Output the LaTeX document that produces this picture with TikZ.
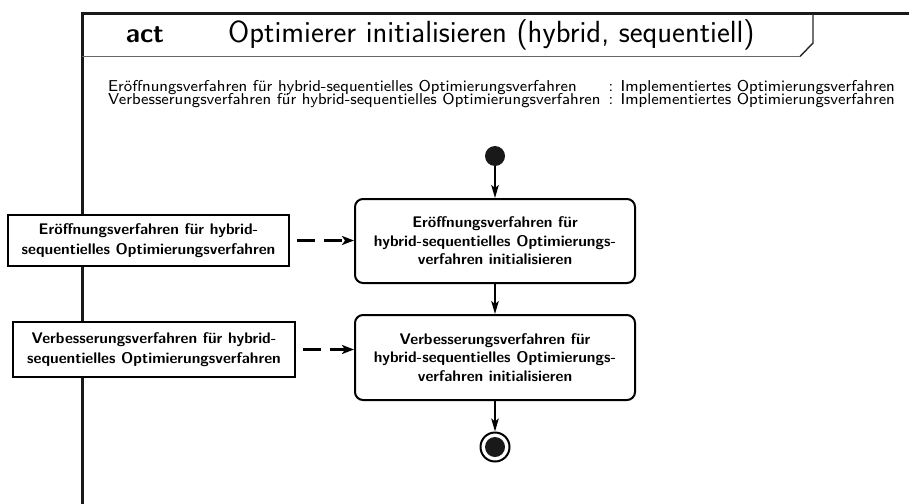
\documentclass[tikz,border=0pt]{standalone}
\usepackage{graphicx}
\usetikzlibrary{arrows.meta}
% two declaration lines in the small optical size of Latin Modern Sans, enlarged
\newcommand{\declline}[2]{\hbox{\hbox to 254pt{#1\hfil}#2}}
\newcommand{\declblock}[1]{\scalebox{1.97}{\sffamily\fontsize{8}{9}\selectfont
  \vbox{\baselineskip=6.35pt\lineskiplimit=-100pt #1}}}
\begin{document}
\begin{tikzpicture}[x=1pt,y=-1pt,
  framel/.style={line width=3pt,black!90},
  action/.style={draw,line width=2pt,rounded corners=8pt,fill=white,
    minimum width=280pt,align=center,font=\sffamily\bfseries\fontsize{15.4}{18.5}\selectfont},
  objbox/.style={draw,line width=2pt,fill=white,align=center,
    font=\sffamily\bfseries\fontsize{15.4}{19.5}\selectfont},
  flow/.style={line width=1.7pt,-{Stealth[length=13pt,width=7.5pt,inset=3pt]}},
  objflow/.style={line width=2.4pt,dash pattern=on 18pt off 9pt,shorten <=7pt,
    -{Stealth[length=12pt,width=9pt,inset=3pt]}}]
\useasboundingbox (0,0) rectangle (909,503);
% diagram frame and header
\draw[framel] (82,505) -- (82,14) -- (912,14);
\draw[line width=1pt,black!60] (82,56.5) -- (800,56.5);
\draw[line width=1.4pt,black!85] (800,56.5) -- (813,43) -- (813,14);
\node[anchor=base,inner sep=0pt,font=\sffamily\bfseries\fontsize{27}{30}\selectfont] (kw) at (145,43) {act};
\node[anchor=base west,inner sep=0pt,font=\sffamily\fontsize{30.6}{34}\selectfont] (title) at (228,43) {Optimierer initialisieren (hybrid, sequentiell)};
% parameter declarations
\node[anchor=north west,inner sep=0pt] (params) at (108,80.5) {\declblock{%
  \declline{Eröffnungsverfahren für hybrid-sequentielles Optimierungsverfahren}{: Implementiertes Optimierungsverfahren}
  \declline{Verbesserungsverfahren für hybrid-sequentielles Optimierungsverfahren}{: Implementiertes Optimierungsverfahren}}};
% actions
\node[circle,fill=black!90,minimum size=20pt,inner sep=0pt] (start) at (495,156) {};
\node[action,minimum height=84pt] (a1) at (495,241) {Eröffnungsverfahren für\\hybrid-sequentielles Optimierungs-\\verfahren initialisieren};
\node[action,minimum height=85pt] (a2) at (495,357.5) {Verbesserungsverfahren für\\hybrid-sequentielles Optimierungs-\\verfahren initialisieren};
\node[circle,draw,line width=2pt,minimum size=29pt,inner sep=0pt] (end) at (495,447) {};
\node[circle,fill=black!90,minimum size=20pt,inner sep=0pt] (endin) at (end.center) {};
% object nodes
\node[objbox,minimum width=281pt,minimum height=51pt] (o1) at (148.5,240.5) {Eröffnungsverfahren für hybrid-\\sequentielles Optimierungsverfahren};
\node[objbox,minimum width=282pt,minimum height=55pt] (o2) at (154,349.5) {Verbesserungsverfahren für hybrid-\\sequentielles Optimierungsverfahren};
% control flow
\draw[flow] (start) -- (a1);
\draw[flow] (a1) -- (a2);
\draw[flow] (a2) -- (end);
% object flow
\draw[objflow] (o1.east) -- (a1.west |- o1.east);
\draw[objflow] (o2.east) -- (a2.west |- o2.east);
\end{tikzpicture}
\end{document}
